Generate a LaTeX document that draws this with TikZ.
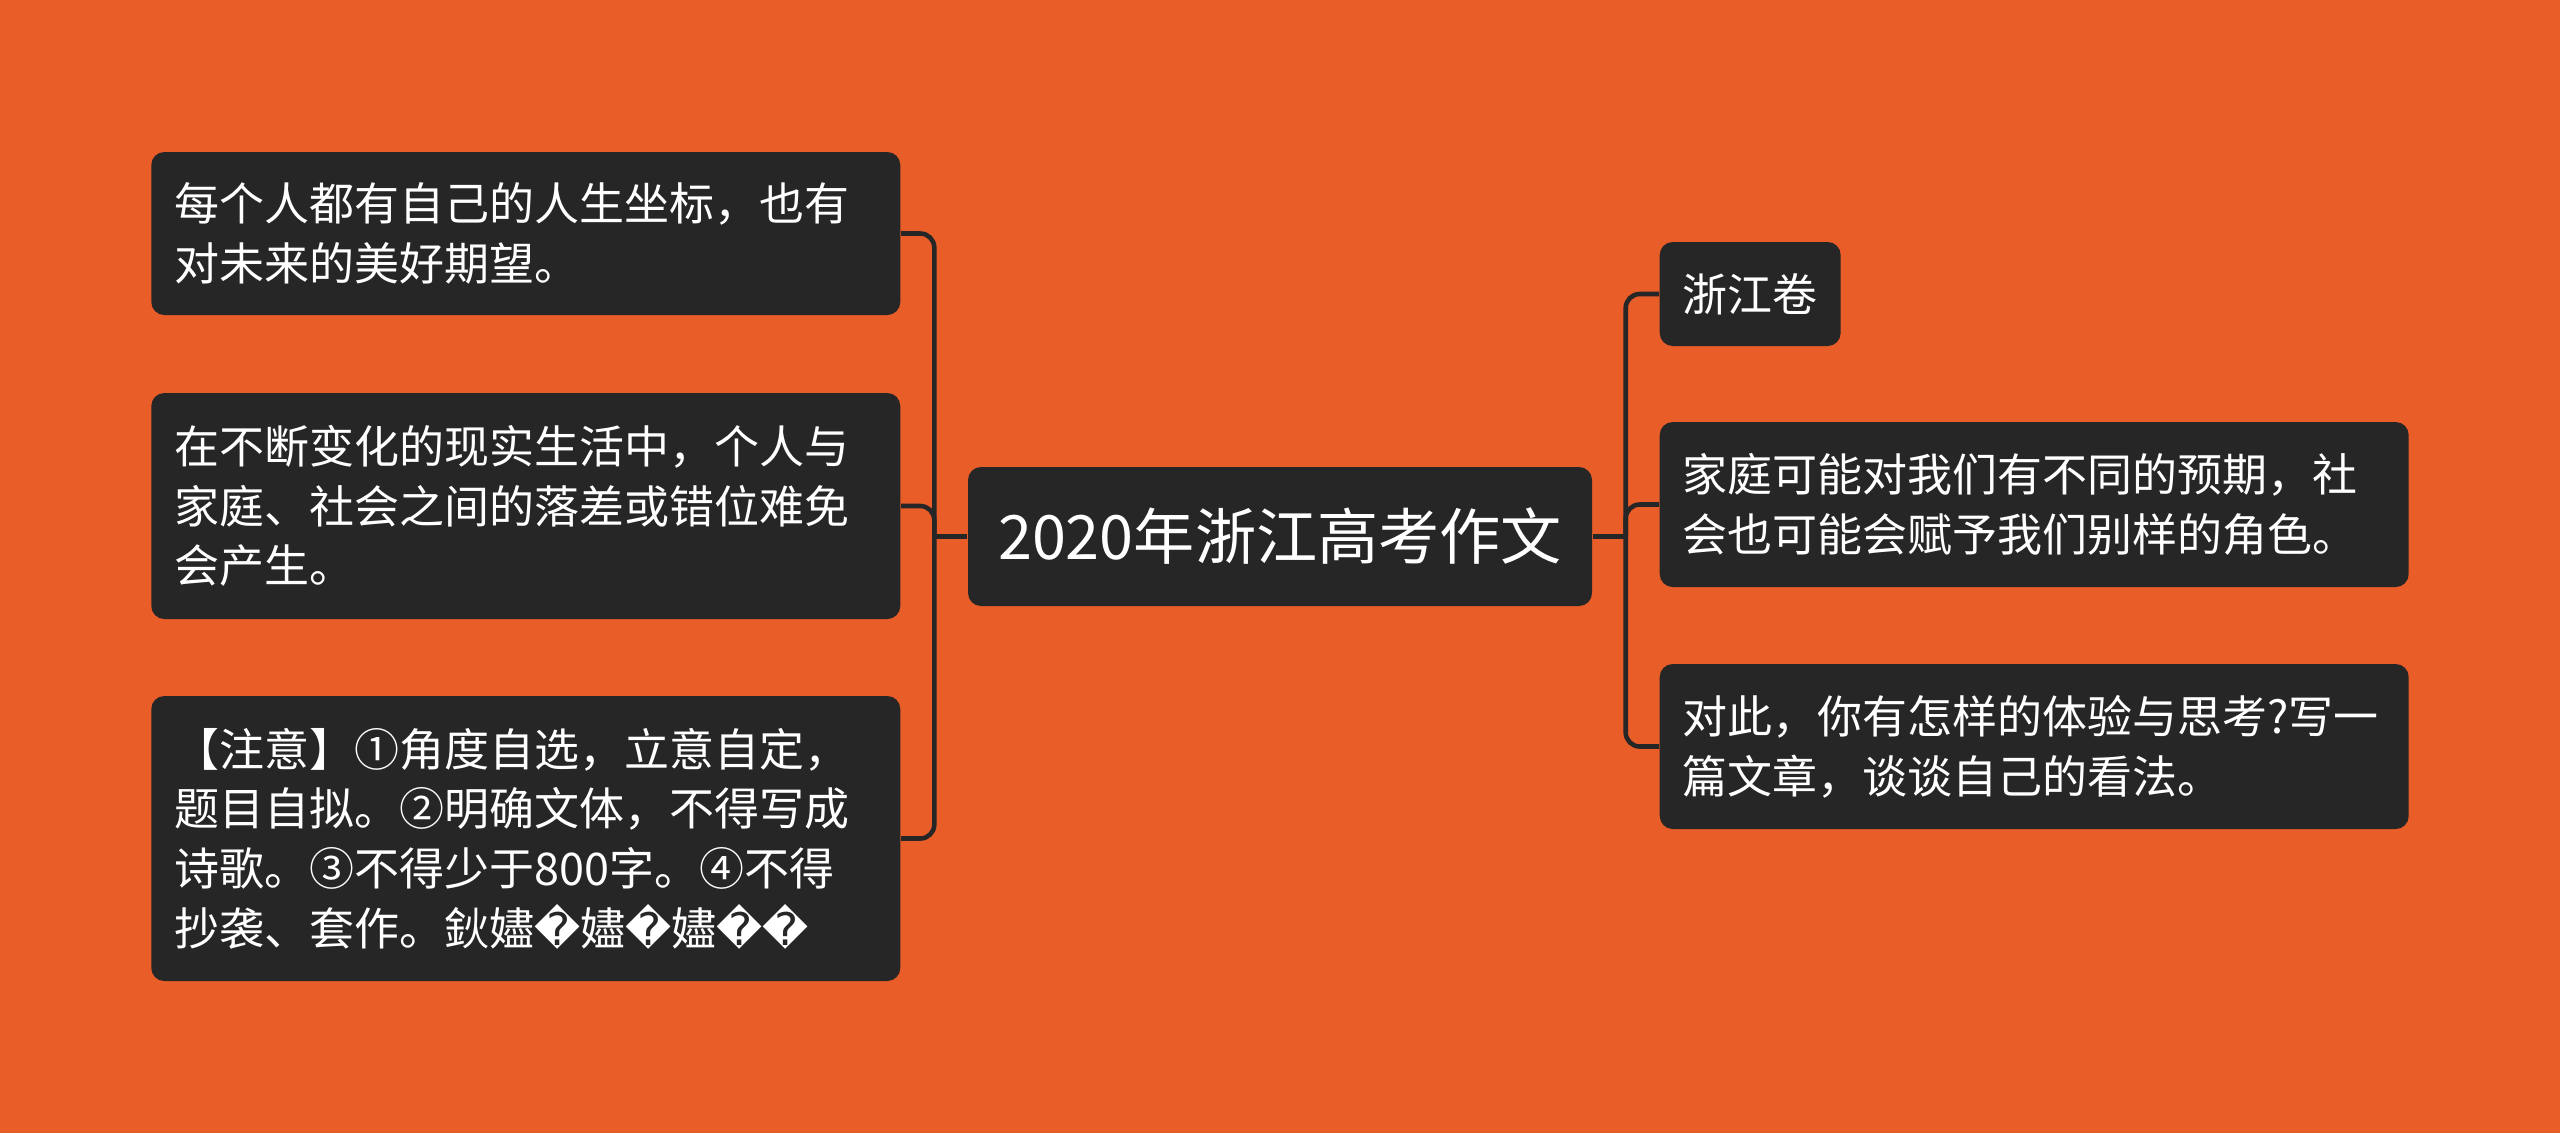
\documentclass[tikz,border=0pt]{standalone}
\usepackage{fontspec}
\usetikzlibrary{positioning}
\newfontfamily\cjk{Noto Sans CJK SC}
\newfontfamily\dejavu{DejaVu Sans}
\definecolor{mapbg}{RGB}{233,93,41}
\definecolor{boxbg}{RGB}{38,38,38}
\newcommand{\badch}{{\dejavu\symbol{"FFFD}}}

\begin{document}
\begin{tikzpicture}[font=\cjk,
  topic/.style={fill=boxbg, text=white, rounded corners=1.3mm, align=left,
                inner xsep=2.3mm, inner ysep=1mm,
                font=\cjk\fontsize{12.8}{17}\selectfont},
  wide/.style={topic, text width=7.03cm, minimum height=#1},
  link/.style={draw=boxbg, line width=1.3pt, rounded corners=1.4mm}]
\fill[mapbg] (0,0) rectangle (25.6,-11.33);
\useasboundingbox (0,0) rectangle (25.6,-11.33);

\node[topic, align=center, minimum width=6.24cm, minimum height=1.39cm,
      font=\cjk\fontsize{17.4}{20}\selectfont] (root) at (12.80,-5.365)
  {2020年浙江高考作文};

% left side
\node[wide=1.63cm, anchor=east] (l1) at (9.01,-2.335)
  {每个人都有自己的人生坐标，也有\\对未来的美好期望。};
\node[wide=2.26cm, anchor=east] (l2) at (9.01,-5.06)
  {在不断变化的现实生活中，个人与\\家庭、社会之间的落差或错位难免\\会产生。};
\node[wide=2.85cm, anchor=east] (l3) at (9.01,-8.385)
  {【注意】①角度自选，立意自定，\\题目自拟。②明确文体，不得写成\\诗歌。③不得少于800字。④不得\\抄袭、套作。鈥嬧\badch 嬧\badch 嬧\badch\badch};

% right side
\node[topic, minimum height=1.04cm, anchor=west] (r1) at (16.59,-2.94) {浙江卷};
\node[wide=1.65cm, anchor=west] (r2) at (16.59,-5.045)
  {家庭可能对我们有不同的预期，社\\会也可能会赋予我们别样的角色。};
\node[wide=1.65cm, anchor=west] (r3) at (16.59,-7.465)
  {对此，你有怎样的体验与思考?写一\\篇文章，谈谈自己的看法。};

\coordinate[left=3.3mm of root.west] (lj);
\coordinate[right=3.3mm of root.east] (rj);
\draw[link] (root.west) -- (lj);
\draw[link] (root.east) -- (rj);
\foreach \n in {l1,l2,l3}
  \draw[link] (lj) |- (\n.east);
\foreach \n in {r1,r2,r3}
  \draw[link] (rj) |- (\n.west);
\end{tikzpicture}
\end{document}
